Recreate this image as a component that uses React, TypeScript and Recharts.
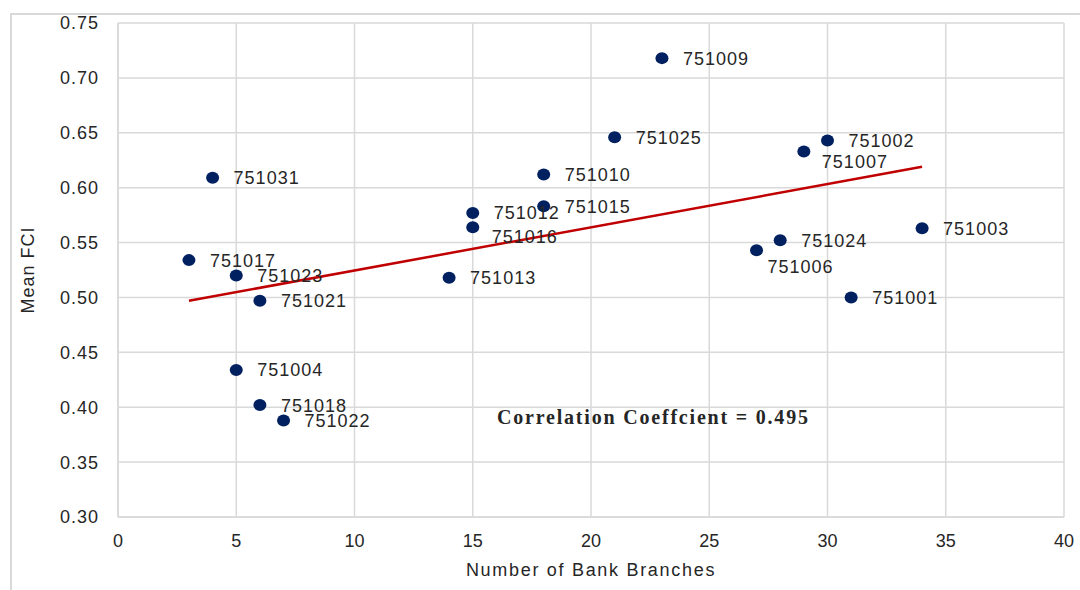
import {
    CartesianGrid,
    ReferenceLine,
    Scatter,
    ScatterChart,
    XAxis,
    YAxis,
    LabelList,
} from "recharts";

// Datos: número de sucursales y FCI medio por distrito
const districtCodes = [
    "751009", "751025", "751002", "751007", "751010", "751031", "751015",
    "751012", "751016", "751003", "751024", "751006", "751017", "751023",
    "751013", "751001", "751021", "751004", "751018", "751022",
];
const bankBranches = [23, 21, 30, 29, 18, 4, 18, 15, 15, 34, 28, 27, 3, 5, 14, 31, 6, 5, 6, 7];
const meanFci = [
    0.718, 0.646, 0.643, 0.633, 0.612, 0.609, 0.583,
    0.577, 0.564, 0.563, 0.552, 0.543, 0.534, 0.520,
    0.518, 0.500, 0.497, 0.434, 0.402, 0.388,
];

// Línea de tendencia (extremos)
const trendX = [3, 34];
const trendY = [0.497, 0.619];

const xTicks = [0, 5, 10, 15, 20, 25, 30, 35, 40];
const yTicks = [0.3, 0.35, 0.4, 0.45, 0.5, 0.55, 0.6, 0.65, 0.7, 0.75];

const correlationText = "Correlation Coeffcient = 0.495";

const chartData = districtCodes.map((code, i) => ({
    code,
    x: bankBranches[i],
    y: meanFci[i],
}));

// Desplazamiento de etiquetas que no van a la derecha del punto
const labelOffsets: Record<string, { dx: number; dy: number }> = {
    "751007": { dx: 18, dy: 10 },
    "751006": { dx: 11, dy: 16 },
    "751016": { dx: 19, dy: 9 },
};

const FONT = "'Liberation Sans', Arial, sans-serif";
const TEXT = "#262626";
const GRID = "#d9d9d9";

const Dot = (props: any) => {
    const { cx, cy } = props;
    return <ellipse cx={cx} cy={cy} rx={6.5} ry={6} fill="#002060" />;
};

const PointLabel = (props: any) => {
    const { x, y, width, height, value } = props;
    const cx = x + width / 2;
    const cy = y + height / 2;
    const off = labelOffsets[value] || { dx: 21, dy: 0 };
    return (
        <text
            x={cx + off.dx}
            y={cy + off.dy}
            dy="0.36em"
            fontSize={18}
            fontFamily={FONT}
            fill={TEXT}
            letterSpacing={1}
        >
            {value}
        </text>
    );
};

const App = () => {
    return (
        <div
            style={{
                position: "absolute",
                left: 0,
                top: 0,
                width: 1080,
                height: 590,
                background: "#fff",
                overflow: "hidden",
            }}
        >
            {/* Borde exterior */}
            <div
                style={{
                    position: "absolute",
                    left: 10,
                    top: 13,
                    width: 1200,
                    height: 700,
                    border: `2px solid ${GRID}`,
                }}
            />
            <div style={{ position: "absolute", left: 0, top: 0 }}>
                <ScatterChart
                    width={1080}
                    height={590}
                    margin={{ top: 23, right: 16, left: 0, bottom: 0 }}
                >
                    <CartesianGrid stroke={GRID} strokeWidth={1.5} />
                    <XAxis
                        type="number"
                        dataKey="x"
                        domain={[0, 40]}
                        ticks={xTicks}
                        height={73}
                        tickSize={0}
                        tickMargin={17}
                        axisLine={{ stroke: GRID, strokeWidth: 1.5 }}
                        tick={{ fill: TEXT, fontSize: 18, fontFamily: FONT }}
                        label={{
                            value: "Number of Bank Branches",
                            position: "insideBottom",
                            offset: 14,
                            style: { fill: TEXT, fontSize: 18, fontFamily: FONT, letterSpacing: 1.7 },
                        }}
                    />
                    <YAxis
                        type="number"
                        dataKey="y"
                        domain={[0.3, 0.75]}
                        ticks={yTicks}
                        width={118}
                        tickSize={0}
                        tickMargin={19}
                        tickFormatter={(v: number) => v.toFixed(2)}
                        axisLine={{ stroke: GRID, strokeWidth: 1.5 }}
                        tick={{ fill: TEXT, fontSize: 18, fontFamily: FONT, letterSpacing: 1 }}
                        label={{
                            value: "Mean FCI",
                            angle: -90,
                            position: "center",
                            dx: -31,
                            style: { fill: TEXT, fontSize: 18, fontFamily: FONT, letterSpacing: 1 },
                        }}
                    />
                    <ReferenceLine
                        segment={[
                            { x: trendX[0], y: trendY[0] },
                            { x: trendX[1], y: trendY[1] },
                        ]}
                        stroke="#c00000"
                        strokeWidth={2.5}
                    />
                    <Scatter data={chartData} shape={<Dot />} isAnimationActive={false}>
                        <LabelList dataKey="code" content={<PointLabel />} />
                    </Scatter>
                </ScatterChart>
            </div>
            {/* Coeficiente de correlación */}
            <div
                style={{
                    position: "absolute",
                    left: 497,
                    top: 405,
                    fontFamily: "'Liberation Serif', 'Times New Roman', serif",
                    fontWeight: "bold",
                    fontSize: 20,
                    letterSpacing: 1.8,
                    color: TEXT,
                    whiteSpace: "nowrap",
                    lineHeight: "24px",
                }}
            >
                {correlationText}
            </div>
        </div>
    );
};

export default App;
